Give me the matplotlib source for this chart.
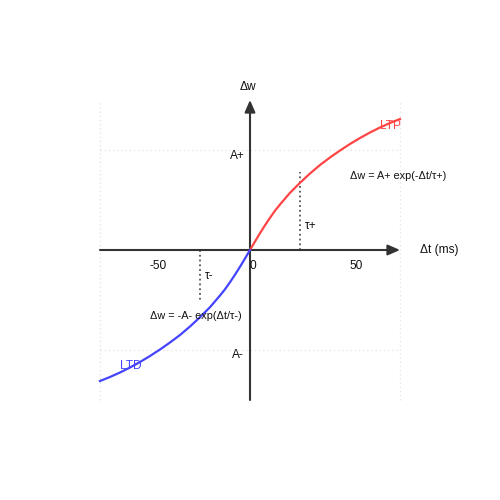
import matplotlib
matplotlib.use("Agg")
import matplotlib.pyplot as plt

plt.rcParams["font.family"] = ["Liberation Sans", "DejaVu Sans"]

# curve samples
dt_ltp = [0, 2.5, 5, 7.5, 10, 12.5, 15, 20, 25, 30, 35, 40, 45, 50, 55, 60, 65, 70, 75]
dw_ltp = [0, 0.085, 0.168, 0.247, 0.322, 0.393, 0.455, 0.572, 0.672, 0.765, 0.85,
          0.925, 0.995, 1.06, 1.12, 1.175, 1.225, 1.27, 1.31]
dt_ltd = [0, -2.5, -5, -7.5, -10, -12.5, -15, -20, -25, -30, -35, -40, -45, -50, -55,
          -60, -65, -70, -75]
dw_ltd = [0, -0.085, -0.168, -0.247, -0.322, -0.393, -0.455, -0.572, -0.672, -0.765,
          -0.85, -0.925, -0.995, -1.06, -1.12, -1.175, -1.225, -1.27, -1.31]

x_ticks = [-50, 0, 50]
x_tick_labels = ["-50", "0", "50"]
tau = 25
tau_plus_top = 0.78
tau_minus_bottom = -0.5

AX = "#333333"

fig = plt.figure(figsize=(5, 5), dpi=100)
ax = fig.add_axes([0, 0, 1, 1])
ax.set_xlim(-125, 125)
ax.set_ylim(-2.5, 2.5)
ax.axis("off")

# faint dotted grid
for gx in (-75, 75):
    ax.plot([gx, gx], [-1.5, 1.5], color="#e6e6e6", lw=1, ls=(0, (1, 2)), zorder=0)
for gy in (-1, 1):
    ax.plot([-75, 75], [gy, gy], color="#e6e6e6", lw=1, ls=(0, (1, 2)), zorder=0)

# axes with arrows
arrow = dict(arrowstyle="-|>,head_length=0.8,head_width=0.35", color=AX,
             lw=1.5, shrinkA=0, shrinkB=0, mutation_scale=9)
ax.annotate("", xy=(75, 0), xytext=(-75, 0), arrowprops=arrow, zorder=2)
ax.annotate("", xy=(0, 1.5), xytext=(0, -1.5), arrowprops=arrow, zorder=2)

# curves
ax.plot(dt_ltp, dw_ltp, color="#ff4444", lw=1.6, zorder=3)
ax.plot(dt_ltd, dw_ltd, color="#4444ff", lw=1.6, zorder=3)

# tau markers
ax.plot([tau, tau], [0, tau_plus_top], color="#555555", lw=1.3, ls=":", zorder=1)
ax.plot([-tau, -tau], [0, tau_minus_bottom], color="#555555", lw=1.3, ls=":", zorder=1)

fs = 8.6
for xv, lab in zip(x_ticks, x_tick_labels):
    ax.text(xv, -0.16, lab, fontsize=fs, ha="left", va="center", color="#111")
ax.text(-1, 1.63, "Δw", fontsize=fs, ha="center", va="center", color="#111")
ax.text(85, 0, "Δt (ms)", fontsize=fs, ha="left", va="center", color="#111")
ax.text(-2.5, 0.94, "A+", fontsize=fs, ha="right", va="center", color="#111")
ax.text(-3, -1.05, "A-", fontsize=fs, ha="right", va="center", color="#111")
ax.text(27.5, 0.24, "τ+", fontsize=fs, ha="left", va="center", color="#111")
ax.text(-22.5, -0.26, "τ-", fontsize=fs, ha="left", va="center", color="#111")
ax.text(50, 0.74, "Δw = A+ exp(-Δt/τ+)", fontsize=7.8, ha="left", va="center",
        color="#111", zorder=4)
ax.text(-50, -0.66, "Δw = -A- exp(Δt/τ-)", fontsize=7.8, ha="left", va="center",
        color="#111", zorder=4)
ax.text(65, 1.24, "LTP", fontsize=fs, ha="left", va="center", color="#ff4444", zorder=4)
ax.text(-65, -1.16, "LTD", fontsize=fs, ha="left", va="center", color="#4444ff", zorder=4)

fig.savefig("out.png", dpi=100, facecolor="white")
